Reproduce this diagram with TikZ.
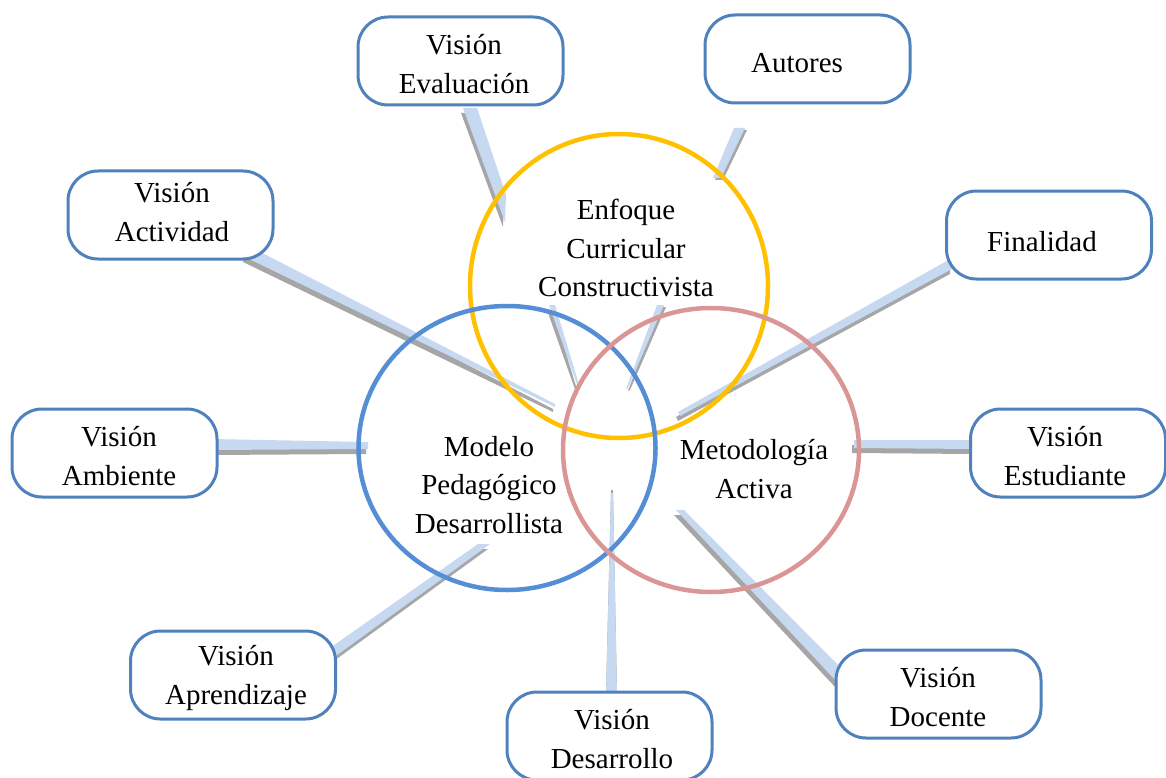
\documentclass[tikz,border=0pt]{standalone}
\usepackage{fontspec}
\setmainfont{Liberation Serif}
\usetikzlibrary{calc,shapes.geometric}
\definecolor{boxblue}{RGB}{79,129,189}
\definecolor{circblue}{RGB}{85,142,213}
\definecolor{circyellow}{RGB}{255,192,0}
\definecolor{circpink}{RGB}{217,150,148}
\definecolor{connfill}{RGB}{198,217,241}
\definecolor{connshadow}{RGB}{166,166,166}
% tapered connector: four named corner points, shadow offset
\newcommand\conn[5][-2,5]{%
  \fill[connshadow] ($(#2)+(#1)$) -- ($(#3)+(#1)$) -- ($(#4)+(#1)$) -- ($(#5)+(#1)$) -- cycle;
  \fill[connfill] (#2) -- (#3) -- (#4) -- (#5) -- cycle;}
% rounded box with its text: name, box centre, text centre, text
\newcommand\boxnode[5][]{%
  \node[box,#1] (#2) at (#3) {};
  \node[txt] (#2T) at (#4) {#5};}
\tikzset{
  box/.style={draw=boxblue, line width=3pt, fill=white, rounded corners=30pt,
    minimum width=205pt, minimum height=88pt, inner sep=0pt},
  ring/.style={draw, ellipse, line width=4.5pt, inner sep=0pt},
  txt/.style={align=center, inner sep=0pt, font=\fontsize{29}{38.5}\selectfont}
}
\begin{document}
\begin{tikzpicture}[x=1pt,y=-1pt]
\useasboundingbox (0,0) rectangle (1166,778);
% connector end points
\coordinate (ev1) at (463,108); \coordinate (ev2) at (477,108); \coordinate (ev3) at (506,195); \coordinate (ev4) at (505,222);
\coordinate (au1) at (734,128); \coordinate (au2) at (745,128); \coordinate (au3) at (721,178); \coordinate (au4) at (713,178);
\coordinate (ac1) at (245,244); \coordinate (ac2) at (555,404); \coordinate (ac3) at (555,407); \coordinate (ac4) at (245,257);
\coordinate (am1) at (212,439); \coordinate (am2) at (368,442); \coordinate (am3) at (368,449); \coordinate (am4) at (212,450);
\coordinate (de1) at (611,493); \coordinate (de2) at (613,493); \coordinate (de3) at (617,695); \coordinate (de4) at (606,695);
\coordinate (do1) at (676,510); \coordinate (do2) at (684,510); \coordinate (do3) at (838,665); \coordinate (do4) at (838,683);
\coordinate (ap1) at (330,648); \coordinate (ap2) at (478,544); \coordinate (ap3) at (490,544); \coordinate (ap4) at (333,658);
\coordinate (fi1) at (952,258); \coordinate (fi2) at (952,269); \coordinate (fi3) at (680,416); \coordinate (fi4) at (678,412);
\coordinate (es1) at (854,440); \coordinate (es2) at (975,440); \coordinate (es3) at (975,449); \coordinate (es4) at (854,448);
\coordinate (il1) at (549,305); \coordinate (il2) at (555,305); \coordinate (il3) at (580,388); \coordinate (il4) at (579,390);
\coordinate (ir1) at (657,305); \coordinate (ir2) at (664,305); \coordinate (ir3) at (628,388); \coordinate (ir4) at (626,389);
% connectors
\conn{ev1}{ev2}{ev3}{ev4}
\conn[2,2]{au1}{au2}{au3}{au4}
\conn{ac1}{ac2}{ac3}{ac4}
\conn{am1}{am2}{am3}{am4}
\conn[0,-3]{de1}{de2}{de3}{de4}
\conn{do1}{do2}{do3}{do4}
\conn{ap1}{ap2}{ap3}{ap4}
\conn{fi1}{fi2}{fi3}{fi4}
\conn{es1}{es2}{es3}{es4}
\conn{il1}{il2}{il3}{il4}
\conn[2,2]{ir1}{ir2}{ir3}{ir4}
% circles
\node[ring, draw=circyellow, minimum width=298pt, minimum height=304pt] (enfoque) at (619,286) {};
\node[ring, draw=circblue, minimum width=297pt, minimum height=284pt] (modelo) at (507,448) {};
\node[ring, draw=circpink, minimum width=296pt, minimum height=284pt] (metodo) at (711,450) {};
\node[txt] (enfoqueT) at (626,248) {Enfoque\\Curricular\\Constructivista};
\node[txt] (modeloT) at (489,485) {Modelo\\Pedagógico\\Desarrollista};
\node[txt] (metodoT) at (754,469) {Metodología\\Activa};
% boxes
\boxnode{eval}{460.5,61}{464,64}{Visión\\Evaluación}
\boxnode{autores}{807.5,59}{797,63}{Autores}
\boxnode{actividad}{170.5,215}{172,212}{Visión\\Actividad}
\boxnode{finalidad}{1049,235}{1042,242}{Finalidad}
\boxnode{ambiente}{114.5,453}{119,456}{Visión\\Ambiente}
\boxnode[minimum width=195pt]{estudiante}{1068,453}{1065,456}{Visión\\Estudiante}
\boxnode{aprendizaje}{233,675}{236,678}{Visión\\Aprendizaje}
\boxnode{desarrollo}{609.5,736}{612,739}{Visión\\Desarrollo}
\boxnode{docente}{938.5,694}{938,697}{Visión\\Docente}
\end{tikzpicture}
\end{document}
